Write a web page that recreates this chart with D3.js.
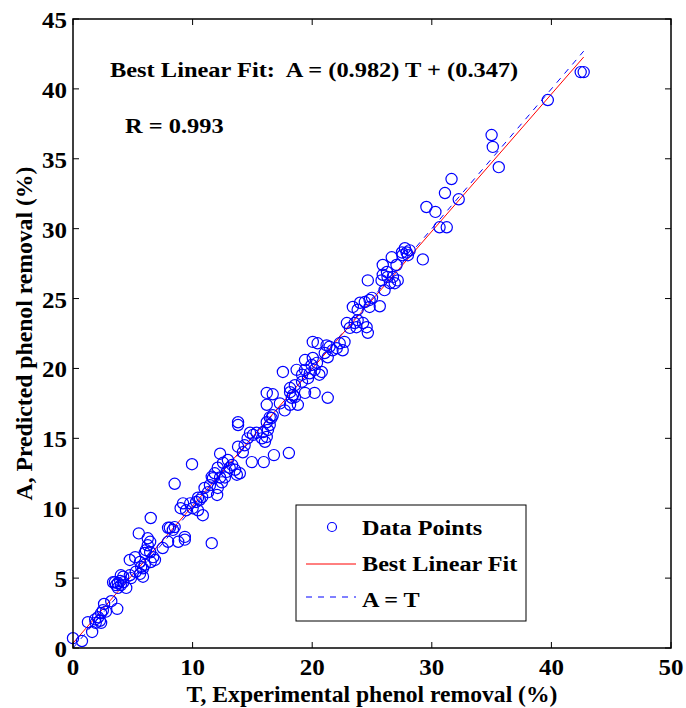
<!DOCTYPE html>
<html>
<head>
<meta charset="utf-8">
<script src="https://cdn.jsdelivr.net/npm/d3@7/dist/d3.min.js"></script>
<style>
  html,body{margin:0;padding:0;background:#fff;}
  svg{display:block;}
  text{font-family:"Liberation Serif","Times New Roman",serif;font-weight:bold;fill:#000;white-space:pre;}
</style>
</head>
<body>
<div id="chart"></div>
<script>
// experimental (T) vs predicted (A) phenol removal
const experimental=[
  0.0,0.75,1.6,1.25,1.85,2.1,2.35,1.9,2.25,2.5,2.75,2.35,3.2,3.7,2.6,
  3.5,3.75,3.95,4.0,3.6,3.75,4.2,4.45,3.35,4.2,4.0,
  4.75,4.85,5.25,5.6,5.85,5.85,4.75,5.2,5.6,5.7,6.0,
  5.5,6.25,6.25,6.1,6.45,6.0,6.7,6.5,6.85,6.45,6.5,7.5,7.95,
  8.1,8.5,8.35,7.95,8.8,9.35,9.35,8.5,9.95,11.6,10.85,
  9.0,9.45,9.2,9.8,10.0,10.3,10.6,10.45,
  12.3,12.55,12.1,12.95,13.3,12.85,11.85,11.7,12.3,12.7,13.1,13.55,13.7,13.95,
  12.45,11.6,11.45,12.1,11.0,11.3,10.8,12.05,10.45,
  14.95,15.95,16.8,18.05,14.2,13.8,14.35,14.6,15.05,15.35,14.8,
  16.05,15.8,16.2,15.9,16.3,16.45,16.2,16.6,16.45,16.7,13.8,13.8,
  16.2,16.2,16.7,17.3,17.7,18.15,18.3,18.4,18.8,18.15,18.55,17.55,
  19.4,20.2,21.3,18.55,19.15,18.15,18.7,19.4,19.8,20.2,19.95,20.4,20.8,20.6,19.4,20.05,19.65,19.15,
  20.05,20.45,21.2,21.45,21.05,21.7,22.05,22.3,22.7,22.55,21.3,
  22.9,23.15,23.7,24.25,24.65,24.55,23.4,24.0,24.4,24.8,23.8,24.8,25.65,24.65,
  25.9,26.65,27.05,25.9,26.25,26.3,25.8,26.75,27.15,26.5,26.9,26.05,
  27.75,27.9,27.55,28.0,28.15,27.5,29.25,29.55,30.3,30.65,31.25,31.1,31.65,32.25,
  35.0,35.1,35.6,39.7,42.45,42.7,23.55,23.8,25.0
];
const predicted=[
  0.7,0.5,1.15,1.85,2.05,2.2,2.5,1.8,1.95,2.7,2.6,1.8,3.35,2.8,3.15,
  4.7,4.65,4.8,4.5,4.5,4.3,4.7,4.3,4.7,5.1,5.2,
  5.2,5.0,5.45,5.3,5.1,5.7,6.3,6.5,6.15,5.8,5.95,
  8.2,7.85,7.35,7.0,6.85,6.8,6.5,6.15,6.3,7.6,9.3,7.15,7.6,
  8.6,8.65,8.45,8.6,7.6,7.95,7.75,11.75,13.15,7.5,9.5,
  10.0,9.85,10.35,10.35,10.0,10.45,10.6,9.85,
  13.9,13.25,12.9,13.45,13.1,12.6,12.5,12.15,12.2,12.2,12.9,12.75,12.4,12.5,
  11.85,12.25,11.65,11.45,11.45,11.15,10.8,10.95,10.75,
  13.3,13.3,13.8,13.95,14.0,14.4,14.5,15.0,15.25,15.4,15.4,
  14.75,15.0,15.1,15.45,15.6,15.95,16.15,16.45,16.5,16.65,16.15,15.95,
  17.4,18.25,18.15,17.5,17.0,17.4,17.9,18.1,17.4,18.3,17.95,19.75,
  18.25,18.25,17.9,18.8,19.05,18.6,19.9,19.9,19.65,19.9,20.25,20.4,19.75,19.55,20.6,20.75,19.3,19.55,
  21.9,21.8,21.65,21.55,21.1,21.3,21.45,21.8,21.9,21.3,20.8,
  23.25,22.9,22.95,23.25,22.55,22.95,24.4,24.7,24.75,24.9,24.2,24.4,24.45,26.3,
  27.4,27.95,27.4,26.7,26.9,26.55,26.3,26.55,26.3,26.1,26.1,25.6,
  28.6,28.3,28.1,28.1,28.45,28.3,27.8,31.55,31.2,30.1,30.1,32.55,33.55,32.1,
  36.7,35.85,34.4,39.2,41.2,41.2,23.25,23.45,25.05
];
const fitSlope=0.982, fitIntercept=0.347, rValue=0.993;
const xTicks=[0,10,20,30,40,50];
const yTicks=[0,5,10,15,20,25,30,35,40,45];
const legendLabels=["Data Points","Best Linear Fit","A = T"];

const W=686,H=708;
const margin={top:19,right:15,bottom:60,left:73};
const iw=W-margin.left-margin.right, ih=H-margin.top-margin.bottom;

const svg=d3.select("#chart").append("svg").attr("width",W).attr("height",H);
const g=svg.append("g").attr("transform",`translate(${margin.left},${margin.top})`);

const x=d3.scaleLinear().domain([0,50]).range([0,iw]);
const y=d3.scaleLinear().domain([0,45]).range([ih,0]);

// text helper: bold serif, slightly widened like the original export
function label(parent,px,py,str,size,anchor,sx){
  return parent.append("text")
    .attr("transform",`translate(${px},${py}) scale(${sx||1},1)`)
    .attr("text-anchor",anchor||"start")
    .attr("xml:space","preserve")
    .style("font-size",size+"px")
    .text(str);
}

const pts=experimental.map((t,i)=>({t,a:predicted[i]}));
const tMin=d3.min(experimental), tMax=d3.max(experimental);

// A = T reference (dashed) and best fit (red)
g.append("line")
  .attr("x1",x(tMin)).attr("y1",y(tMin)).attr("x2",x(tMax)).attr("y2",y(tMax))
  .attr("stroke","#0000ff").attr("stroke-width",1).attr("stroke-dasharray","6,6");

g.append("line")
  .attr("x1",x(tMin)).attr("y1",y(fitSlope*tMin+fitIntercept))
  .attr("x2",x(tMax)).attr("y2",y(fitSlope*tMax+fitIntercept))
  .attr("stroke","#ff0000").attr("stroke-width",1);

g.append("g").selectAll("circle").data(pts).join("circle")
  .attr("cx",d=>x(d.t)).attr("cy",d=>y(d.a)).attr("r",5.6)
  .attr("fill","none").attr("stroke","#0000ff").attr("stroke-width",1.2);

// box + inward ticks on all sides
g.append("rect").attr("x",0).attr("y",0).attr("width",iw).attr("height",ih)
  .attr("fill","none").attr("stroke","#000").attr("stroke-width",1.5);

const tk=6;
xTicks.forEach(v=>{
  g.append("line").attr("x1",x(v)).attr("x2",x(v)).attr("y1",ih).attr("y2",ih-tk).attr("stroke","#000");
  g.append("line").attr("x1",x(v)).attr("x2",x(v)).attr("y1",0).attr("y2",tk).attr("stroke","#000");
  label(g,x(v),ih+27,v,24,"middle",1.04);
});
yTicks.forEach(v=>{
  g.append("line").attr("x1",0).attr("x2",tk).attr("y1",y(v)).attr("y2",y(v)).attr("stroke","#000");
  g.append("line").attr("x1",iw).attr("x2",iw-tk).attr("y1",y(v)).attr("y2",y(v)).attr("stroke","#000");
  label(g,-6,y(v)+9,v,24,"end",1.04);
});

// axis titles
label(svg,margin.left+iw/2,702,"T, Experimental phenol removal (%)",22.5,"middle",1.05);
svg.append("text")
  .attr("transform",`translate(32,${margin.top+ih/2}) rotate(-90) scale(1.03,1)`)
  .attr("text-anchor","middle").style("font-size","23px")
  .text("A, Predicted phenol removal (%)");

// annotations
label(svg,110,77,`Best Linear Fit:  A = (${fitSlope.toFixed(3)}) T + (${fitIntercept.toFixed(3)})`,22,"start",1.11);
label(svg,125,133,`R = ${rValue.toFixed(3)}`,22,"start",1.11);

// legend
const lg=svg.append("g").attr("transform","translate(296,505)");
lg.append("rect").attr("width",230).attr("height",116)
  .attr("fill","#fff").attr("stroke","#000").attr("stroke-width",1);
lg.append("circle").attr("cx",36).attr("cy",22).attr("r",4.5)
  .attr("fill","none").attr("stroke","#0000ff").attr("stroke-width",1.2);
lg.append("line").attr("x1",10).attr("x2",60).attr("y1",59).attr("y2",59)
  .attr("stroke","#ff0000").attr("stroke-width",1);
lg.append("line").attr("x1",10).attr("x2",60).attr("y1",92).attr("y2",92)
  .attr("stroke","#0000ff").attr("stroke-width",1).attr("stroke-dasharray","6,6");
legendLabels.forEach((s,i)=>label(lg,66,30+i*36,s,22,"start",1.1));
</script>
</body>
</html>
